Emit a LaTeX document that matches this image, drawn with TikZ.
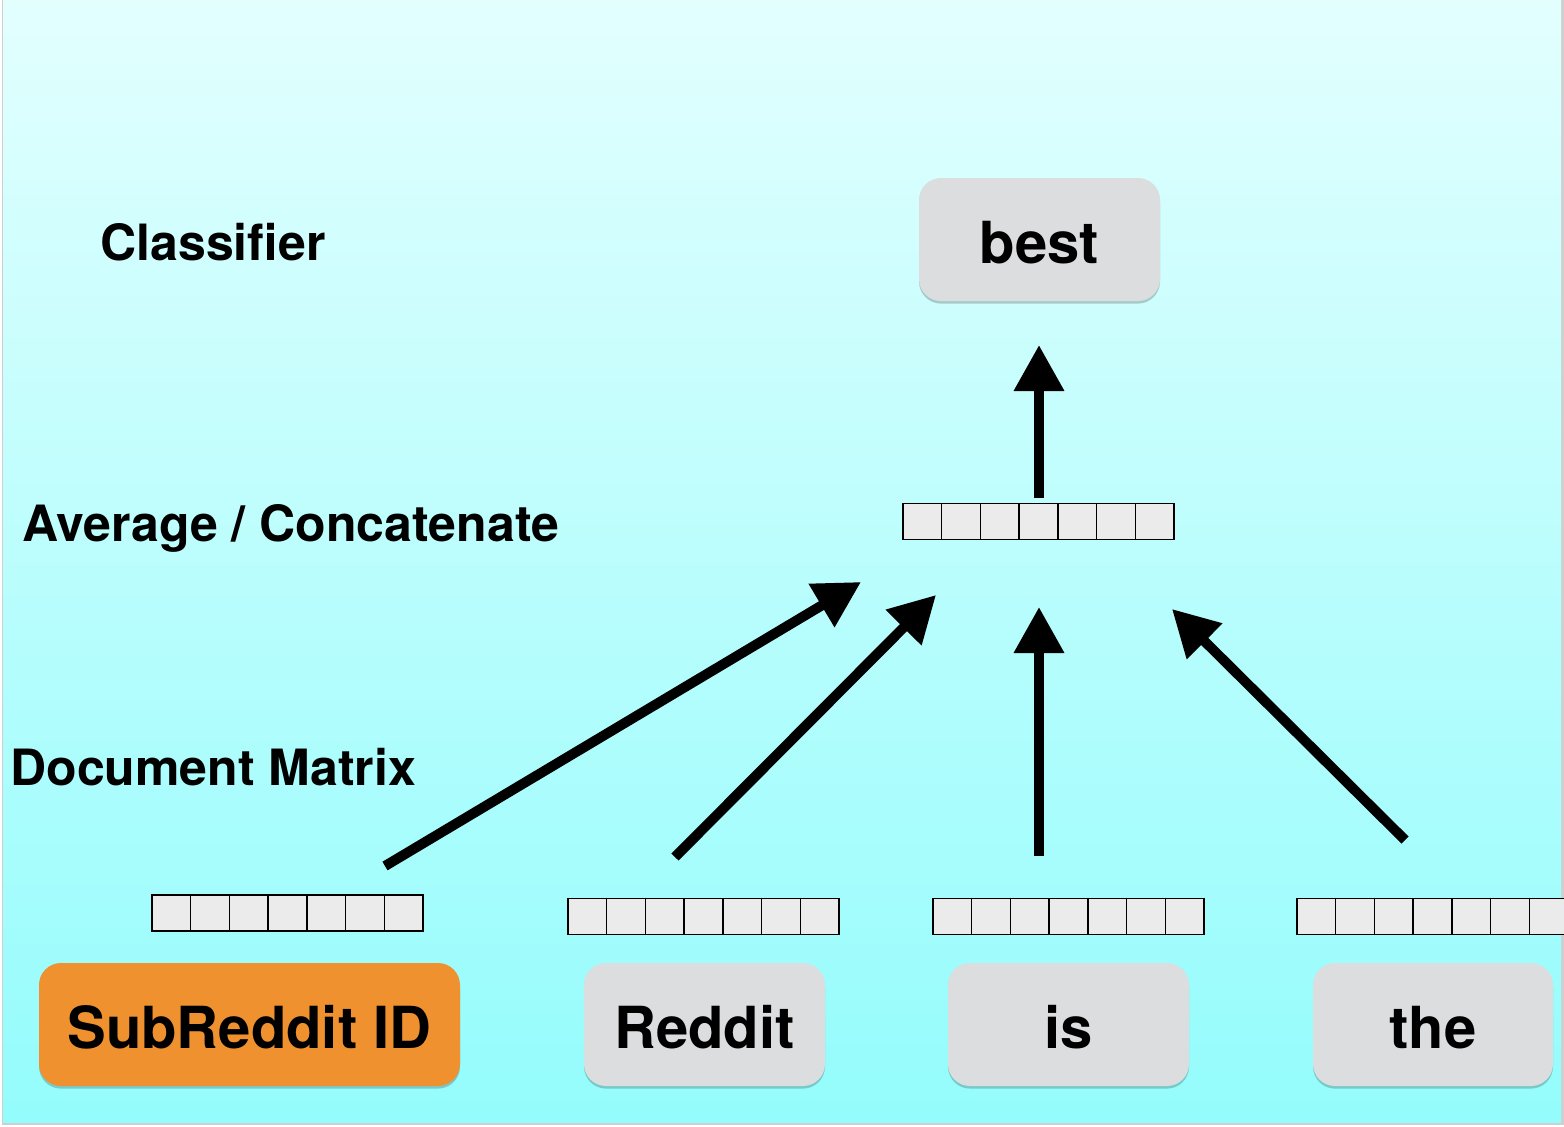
\documentclass[tikz,border=0pt]{standalone}
\usepackage{fontspec}
\setmainfont{TeX Gyre Heros}
\usetikzlibrary{arrows.meta,shadows}
\definecolor{bgtop}{HTML}{E2FFFE}
\definecolor{bgbot}{HTML}{94FCFC}
\definecolor{boxgray}{HTML}{DCDDDF}
\definecolor{boxorange}{HTML}{F0912F}
\definecolor{cellgray}{HTML}{EBEBEB}
\definecolor{framegray}{HTML}{CFCFCF}
\begin{document}
\begin{tikzpicture}[x=0.5pt,y=-0.5pt,
  word/.style={rounded corners=11pt, fill=boxgray, minimum width=120.5pt,
    minimum height=61.5pt, inner sep=0pt, text height=23.5pt, text depth=0pt,
    font=\fontsize{29}{34}\selectfont\bfseries,
    drop shadow={shadow xshift=0pt,shadow yshift=-1.3pt,opacity=0.2,fill=black}},
  lab/.style={anchor=base west, inner sep=0pt, font=\fontsize{25}{30}\selectfont\bfseries},
  cellbar/.style={draw=black, line width=0.75pt, fill=cellgray, minimum width=135.5pt,
    minimum height=18pt, inner sep=0pt,
    path picture={\foreach \i in {1,...,6}{
      \draw[line width=0.75pt] ([xshift=\i*19.357pt]path picture bounding box.south west)
        -- ([xshift=\i*19.357pt]path picture bounding box.north west);}}},
  arr/.style={line width=5pt, -{Triangle[length=23pt,width=24pt]}}
]
\useasboundingbox (0,0) rectangle (1564,1126);
% background and frame
\fill[white] (0,0) rectangle (1564,1126);
\fill[framegray] (1.5,0) rectangle (1563.5,1124.5);
\shade[top color=bgtop, bottom color=bgbot] (3,0) rectangle (1561,1122);

% labels
\node[lab] (lclass) at (100,260) {Classifier};
\node[lab] (lavg) at (22,541) {Average / Concatenate};
\node[lab] (ldoc) at (10,785) {Document Matrix};

% word boxes
\node[word] (best) at (1039.5,239.5) {best};
\node[word, fill=boxorange, minimum width=210.5pt] (sub) at (249.5,1024.5) {SubReddit ID};
\node[word] (reddit) at (704.5,1024.5) {Reddit};
\node[word] (is) at (1068.5,1024.5) {is};
\node[word, minimum width=120pt] (the) at (1433,1024.5) {the};

% vector bars
\node[cellbar] (vavg) at (1038.5,521.5) {};
\node[cellbar] (vsub) at (287.5,913) {};
\node[cellbar] (vreddit) at (703.5,916.5) {};
\node[cellbar] (vis) at (1068.5,916.5) {};
\node[cellbar] (vthe) at (1432.5,916.5) {};

% arrow end points
\coordinate (t1) at (385,866);  \coordinate (h1) at (861,582);
\coordinate (t2) at (675,857);  \coordinate (h2) at (936,595);
\coordinate (t3) at (1039,856); \coordinate (h3) at (1039,607);
\coordinate (t4) at (1405,840); \coordinate (h4) at (1172,609);
\coordinate (t5) at (1039,498); \coordinate (h5) at (1039,345);

\draw[arr] (t1) -- (h1);
\draw[arr] (t2) -- (h2);
\draw[arr] (t3) -- (h3);
\draw[arr] (t4) -- (h4);
\draw[arr] (t5) -- (h5);
\end{tikzpicture}
\end{document}
